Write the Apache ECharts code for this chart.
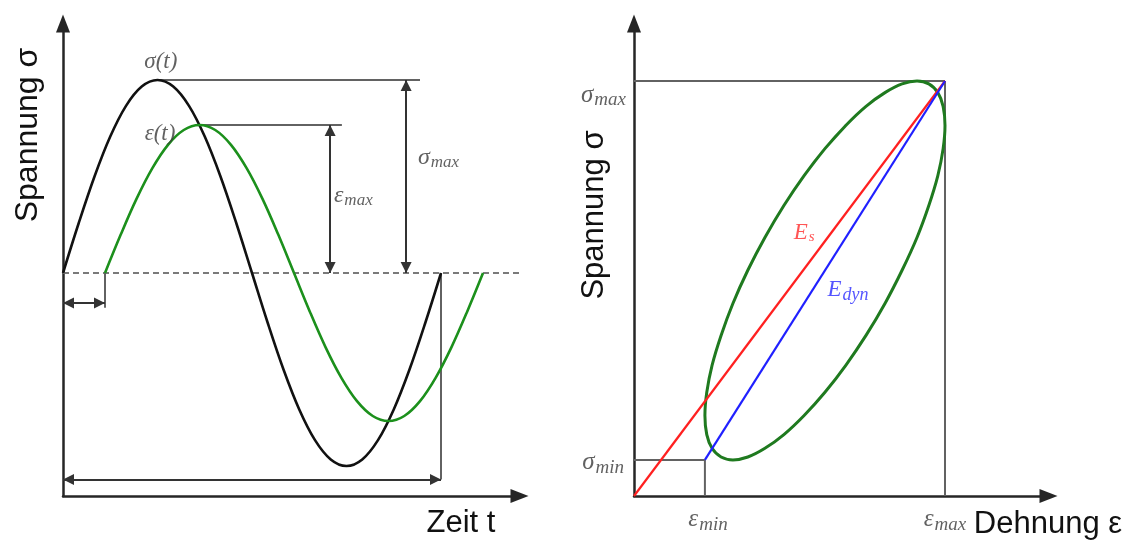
<!DOCTYPE html>
<html>
<head>
<meta charset="utf-8">
<script src="https://cdn.jsdelivr.net/npm/echarts@6/dist/echarts.min.js"></script>
<style>
  html, body { margin: 0; padding: 0; background: #ffffff; }
  #chart { width: 1133px; height: 540px; }
</style>
</head>
<body>
<div id="chart"></div>
<script>
// ---- Left panel: stress σ(t) and strain ε(t) over time (1 time unit = lag of ε behind σ) ----
const sigmaTime = [0, 0.375, 0.75, 1.125, 1.5, 1.875, 2.25, 2.625, 3, 3.375, 3.75, 4.125, 4.5,
  4.875, 5.25, 5.625, 6, 6.375, 6.75, 7.125, 7.5, 7.875, 8.25, 8.625, 9];
const sigmaValues = [0, 0.259, 0.5, 0.707, 0.866, 0.966, 1, 0.966, 0.866, 0.707, 0.5, 0.259, 0,
  -0.259, -0.5, -0.707, -0.866, -0.966, -1, -0.966, -0.866, -0.707, -0.5, -0.259, 0];
const epsTime = [1, 1.375, 1.75, 2.125, 2.5, 2.875, 3.25, 3.625, 4, 4.375, 4.75, 5.125, 5.5,
  5.875, 6.25, 6.625, 7, 7.375, 7.75, 8.125, 8.5, 8.875, 9.25, 9.625, 10];
const epsValues = [0, 0.199, 0.384, 0.542, 0.664, 0.741, 0.767, 0.741, 0.664, 0.542, 0.384, 0.199, 0,
  -0.199, -0.384, -0.542, -0.664, -0.741, -0.767, -0.741, -0.664, -0.542, -0.384, -0.199, 0];

const baselineEnd = 11.0;           // dashed zero line runs to here
const sigmaPeak = 1;                // σ amplitude
const epsPeak = 0.767;              // ε amplitude
const sigmaPeakLine = [2.25, 8.5];  // horizontal reference at σ peak (t from, t to)
const epsPeakLine = [3.25, 6.64];   // horizontal reference at ε peak
const sigmaMaxArrowT = 8.17;        // double arrow for σmax
const epsMaxArrowT = 6.36;          // double arrow for εmax
const lagLevel = -0.155;            // phase lag arrow height
const lagTickBottom = -0.18;
const periodLevel = -1.07;          // period arrow height
const periodEnd = 9;

// ---- Right panel: hysteresis loop σ(ε), traced once round (first/last points overlap) ----
const loopStrain = [0.547, 0.614, 0.681, 0.746, 0.807, 0.862, 0.910, 0.948, 0.977, 0.994, 1.000,
  0.994, 0.977, 0.948, 0.910, 0.862, 0.807, 0.746, 0.681, 0.614, 0.547, 0.482, 0.421, 0.366, 0.318,
  0.280, 0.251, 0.234, 0.228, 0.234, 0.251, 0.280, 0.318, 0.366, 0.421, 0.482, 0.547, 0.614, 0.681];
const loopStress = [0.772, 0.837, 0.893, 0.939, 0.972, 0.993, 1.000, 0.993, 0.972, 0.939, 0.893,
  0.837, 0.772, 0.700, 0.623, 0.544, 0.464, 0.387, 0.315, 0.250, 0.194, 0.148, 0.115, 0.094, 0.087,
  0.094, 0.115, 0.148, 0.194, 0.250, 0.315, 0.387, 0.464, 0.544, 0.623, 0.700, 0.772, 0.837, 0.893];
const strainMin = 0.228, strainMax = 1;
const stressMin = 0.087, stressMax = 1;

// ---- Axis ranges ----
const leftX = [0, 10.869], leftY = [-1.1554, 1.2927];
const rightX = [0, 1.3328], rightY = [0, 1.1386];

const zip = (xs, ys) => xs.map((x, i) => [x, ys[i]]);

const AXIS_COLOR = '#262626';
const GUIDE_COLOR = '#626262';
const ARROW_COLOR = '#333333';
const TEXT_COLOR = '#3a3a3a';
const SERIF = '"Liberation Serif", "DejaVu Serif", serif';
const SANS = '"Liberation Sans", Arial, sans-serif';
const HEAD = 11;                    // arrowhead size of the dimension arrows

function axis(gridIndex, range) {
  return {
    type: 'value', gridIndex, min: range[0], max: range[1],
    axisLine: { show: true, onZero: false, symbol: ['none', 'triangle'], symbolSize: [14, 18],
      lineStyle: { color: AXIS_COLOR, width: 2.5 } },
    axisTick: { show: false }, axisLabel: { show: false }, splitLine: { show: false }
  };
}

function segment(idx, pts, color, width, type) {
  return {
    type: 'line', xAxisIndex: idx, yAxisIndex: idx, data: pts, symbol: 'none', silent: true,
    clip: false, lineStyle: { color, width, type: type || 'solid' }, z: 2
  };
}

// double-headed dimension arrows; heads pulled back so their tips sit on the end points
function arrows(idx, pairs) {
  return {
    type: 'line', xAxisIndex: idx, yAxisIndex: idx, data: [], symbol: 'none', silent: true,
    markLine: {
      silent: true, animation: false, symbol: ['triangle', 'triangle'], symbolSize: HEAD,
      symbolOffset: [[0, HEAD / 2], [0, HEAD / 2]],
      label: { show: false },
      lineStyle: { color: ARROW_COLOR, width: 2, type: 'solid' },
      data: pairs.map(p => [{ coord: p[0] }, { coord: p[1] }])
    }
  };
}

function richStyles(color, main, sub, drop) {
  return {
    m: { fontFamily: SERIF, fontStyle: 'italic', fontSize: main, color },
    s: { fontFamily: SERIF, fontStyle: 'italic', fontSize: sub, color, padding: [drop, 0, 0, 1] }
  };
}

function textItem(pos, text, position, distance, opts) {
  const o = Object.assign({ color: TEXT_COLOR, main: 24, sub: 17, drop: 10 }, opts || {});
  return {
    value: pos,
    label: { show: true, position, distance, formatter: text,
      rich: richStyles(o.color, o.main, o.sub, o.drop) }
  };
}

function labels(idx, items) {
  return {
    type: 'scatter', xAxisIndex: idx, yAxisIndex: idx, symbolSize: 0, silent: true, z: 5,
    data: items
  };
}

const option = {
  animation: false,
  backgroundColor: '#ffffff',
  grid: [
    { left: 63, top: 23.5, width: 456.5, height: 472.5 },
    { left: 634, top: 23.5, width: 414.5, height: 472.5 }
  ],
  xAxis: [axis(0, leftX), axis(1, rightX)],
  yAxis: [axis(0, leftY), axis(1, rightY)],
  series: [
    // left: reference lines
    segment(0, [[0, 0], [baselineEnd, 0]], '#7a7a7a', 2, [6, 4]),
    segment(0, [[sigmaPeakLine[0], sigmaPeak], [sigmaPeakLine[1], sigmaPeak]], GUIDE_COLOR, 2),
    segment(0, [[epsPeakLine[0], epsPeak], [epsPeakLine[1], epsPeak]], GUIDE_COLOR, 2),
    segment(0, [[1, 0], [1, lagTickBottom]], GUIDE_COLOR, 2),
    segment(0, [[periodEnd, 0], [periodEnd, periodLevel]], GUIDE_COLOR, 2),
    arrows(0, [
      [[sigmaMaxArrowT, sigmaPeak], [sigmaMaxArrowT, 0]],
      [[epsMaxArrowT, epsPeak], [epsMaxArrowT, 0]],
      [[0, lagLevel], [1, lagLevel]],
      [[0, periodLevel], [periodEnd, periodLevel]]
    ]),
    // left: signals
    {
      name: 'σ(t)', type: 'line', xAxisIndex: 0, yAxisIndex: 0, data: zip(sigmaTime, sigmaValues),
      symbol: 'none', smooth: 0.35, lineStyle: { color: '#111111', width: 2.6 }, z: 3
    },
    {
      name: 'ε(t)', type: 'line', xAxisIndex: 0, yAxisIndex: 0, data: zip(epsTime, epsValues),
      symbol: 'none', smooth: 0.35, lineStyle: { color: '#1c901c', width: 2.6 }, z: 3
    },
    labels(0, [
      textItem([2.33, 1.093], '{m|σ(t)}', 'inside', 0, { main: 23 }),
      textItem([2.31, 0.72], '{m|ε(t)}', 'inside', 0, { main: 23 }),
      textItem([8.45, 0.60], '{m|σ}{s|max}', 'right', 0),
      textItem([6.45, 0.40], '{m|ε}{s|max}', 'right', 0)
    ]),

    // right: guide lines
    segment(1, [[0, stressMax], [strainMax, stressMax]], GUIDE_COLOR, 2),
    segment(1, [[strainMax, 0], [strainMax, stressMax]], GUIDE_COLOR, 2),
    segment(1, [[0, stressMin], [strainMin, stressMin]], GUIDE_COLOR, 2),
    segment(1, [[strainMin, 0], [strainMin, stressMin]], GUIDE_COLOR, 2),
    // right: hysteresis loop
    {
      name: 'Hysterese', type: 'line', xAxisIndex: 1, yAxisIndex: 1, data: zip(loopStrain, loopStress),
      symbol: 'none', smooth: 0.3, smoothMonotone: null, lineStyle: { color: '#1f7a1f', width: 3 }, z: 3
    },
    // right: secant moduli
    {
      name: 'Es', type: 'line', xAxisIndex: 1, yAxisIndex: 1, data: [[0, 0], [strainMax, stressMax]],
      symbol: 'none', lineStyle: { color: '#ff2020', width: 2.2 }, z: 4
    },
    {
      name: 'Edyn', type: 'line', xAxisIndex: 1, yAxisIndex: 1, data: [[strainMin, stressMin], [strainMax, stressMax]],
      symbol: 'none', lineStyle: { color: '#2020ff', width: 2.2 }, z: 4
    },
    labels(1, [
      textItem([0, 0.966], '{m|σ}{s|max}', 'left', 8, { main: 25, sub: 19 }),
      textItem([0, 0.08], '{m|σ}{s|min}', 'left', 10, { main: 25, sub: 19 }),
      textItem([strainMin + 0.01, 0], '{m|ε}{s|min}', 'bottom', 9, { main: 25, sub: 19 }),
      textItem([strainMax, 0], '{m|ε}{s|max}', 'bottom', 9, { main: 25, sub: 19 }),
      textItem([0.547, 0.634], '{m|E}{s|s}', 'inside', 0, { color: '#ff2a2a', main: 23, sub: 15, drop: 9 }),
      textItem([0.688, 0.496], '{m|E}{s|dyn}', 'inside', 0, { color: '#2a2aff', main: 23, sub: 18 })
    ])
  ],
  graphic: [
    { type: 'text', x: 28, y: 135, rotation: Math.PI / 2, silent: true,
      style: { text: 'Spannung σ', font: '32px ' + SANS, fill: '#111', align: 'center', verticalAlign: 'middle' } },
    { type: 'text', x: 461, y: 523, silent: true,
      style: { text: 'Zeit t', font: '31px ' + SANS, fill: '#111', align: 'center', verticalAlign: 'middle' } },
    { type: 'text', x: 594, y: 215, rotation: Math.PI / 2, silent: true,
      style: { text: 'Spannung σ', font: '31px ' + SANS, fill: '#111', align: 'center', verticalAlign: 'middle' } },
    { type: 'text', x: 1048, y: 524, silent: true,
      style: { text: 'Dehnung ε', font: '31px ' + SANS, fill: '#111', align: 'center', verticalAlign: 'middle' } }
  ]
};

const chart = echarts.init(document.getElementById('chart'), null, { renderer: 'canvas' });
chart.setOption(option);
</script>
</body>
</html>
